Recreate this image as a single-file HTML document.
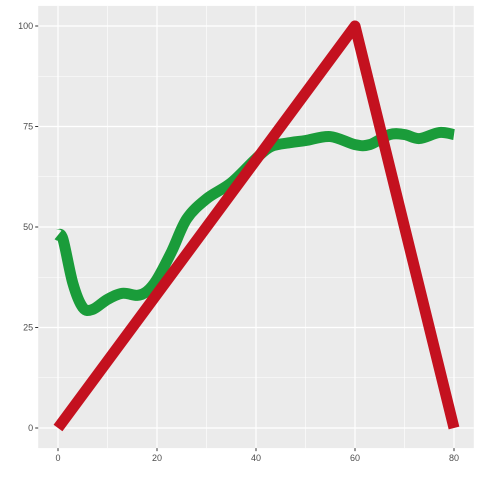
<!DOCTYPE html>
<html><head><meta charset="utf-8"><style>
html,body{margin:0;padding:0;background:#fff;}
svg{display:block;font-family:"Liberation Sans",sans-serif;}
</style></head><body>
<svg id="chart" width="480" height="480"></svg>
<script>
const xTicks=[0,20,40,60,80];
const yTicks=[0,25,50,75,100];
const greenX=[0,1,3,5,7,10,13,16,18,20,23,26,30,35,40,43,47,50,55,60,63,67,70,73,77,80];
const greenY=[48,47,36,30,29.5,32,33.5,33,34,37,44,52,57,61,67,70,71,71.5,72.5,70.5,70.5,73,73,72,73.5,73];
const redX=[0,60,80];
const redY=[0,100,0];

const NS="http://www.w3.org/2000/svg";
const svg=document.getElementById('chart');
const L=38.2,R=473.8,T=5.9,B=448.1;
const xMin=-4,xMax=84,yMin=-5,yMax=105;
const sx=v=>L+(v-xMin)/(xMax-xMin)*(R-L);
const sy=v=>B-(v-yMin)/(yMax-yMin)*(B-T);
function mk(tag,attrs){const e=document.createElementNS(NS,tag);for(const k in attrs)e.setAttribute(k,attrs[k]);svg.appendChild(e);return e;}

const bg=mk('rect',{x:L,y:T,width:R-L,height:B-T,fill:'#EBEBEB'});



for(let i=0;i<xTicks.length-1;i++){const v=(xTicks[i]+xTicks[i+1])/2;
const g=mk('line',{x1:sx(v),x2:sx(v),y1:T,y2:B,stroke:'#fff','stroke-width':0.6});

}
for(let i=0;i<yTicks.length-1;i++){const v=(yTicks[i]+yTicks[i+1])/2;
const g=mk('line',{x1:L,x2:R,y1:sy(v),y2:sy(v),stroke:'#fff','stroke-width':0.6});

}
xTicks.forEach(v=>{
const g=mk('line',{x1:sx(v),x2:sx(v),y1:T,y2:B,stroke:'#fff','stroke-width':1.2});


const t=mk('line',{x1:sx(v),x2:sx(v),y1:B,y2:B+3,stroke:'#333','stroke-width':1});


const l=mk('text',{x:sx(v),y:B+13,'text-anchor':'middle','font-size':9,fill:'#4D4D4D'});
l.textContent=v;


});
yTicks.forEach(v=>{
const g=mk('line',{x1:L,x2:R,y1:sy(v),y2:sy(v),stroke:'#fff','stroke-width':1.2});


const t=mk('line',{x1:L-3,x2:L,y1:sy(v),y2:sy(v),stroke:'#333','stroke-width':1});


const l=mk('text',{x:L-5,y:sy(v)+3,'text-anchor':'end','font-size':9,fill:'#4D4D4D'});
l.textContent=v;


});

// smooth green curve (Catmull-Rom)
const pts=greenX.map((x,i)=>[sx(x),sy(greenY[i])]);
let d=`M${pts[0][0]},${pts[0][1]}`;
for(let i=0;i<pts.length-1;i++){
const p0=pts[Math.max(0,i-1)],p1=pts[i],p2=pts[i+1],p3=pts[Math.min(pts.length-1,i+2)];
const c1=[p1[0]+(p2[0]-p0[0])/6,p1[1]+(p2[1]-p0[1])/6];
const c2=[p2[0]-(p3[0]-p1[0])/6,p2[1]-(p3[1]-p1[1])/6];
d+=` C${c1[0]},${c1[1]} ${c2[0]},${c2[1]} ${p2[0]},${p2[1]}`;}
const gl=mk('path',{d:d,fill:'none',stroke:'#1A9C3A','stroke-width':11,'stroke-linejoin':'round'});



const rd=redX.map((x,i)=>(i?'L':'M')+sx(x)+','+sy(redY[i])).join(' ');
const rl=mk('path',{d:rd,fill:'none',stroke:'#C4111F','stroke-width':11,'stroke-linejoin':'round'});


</script>
</body></html>
